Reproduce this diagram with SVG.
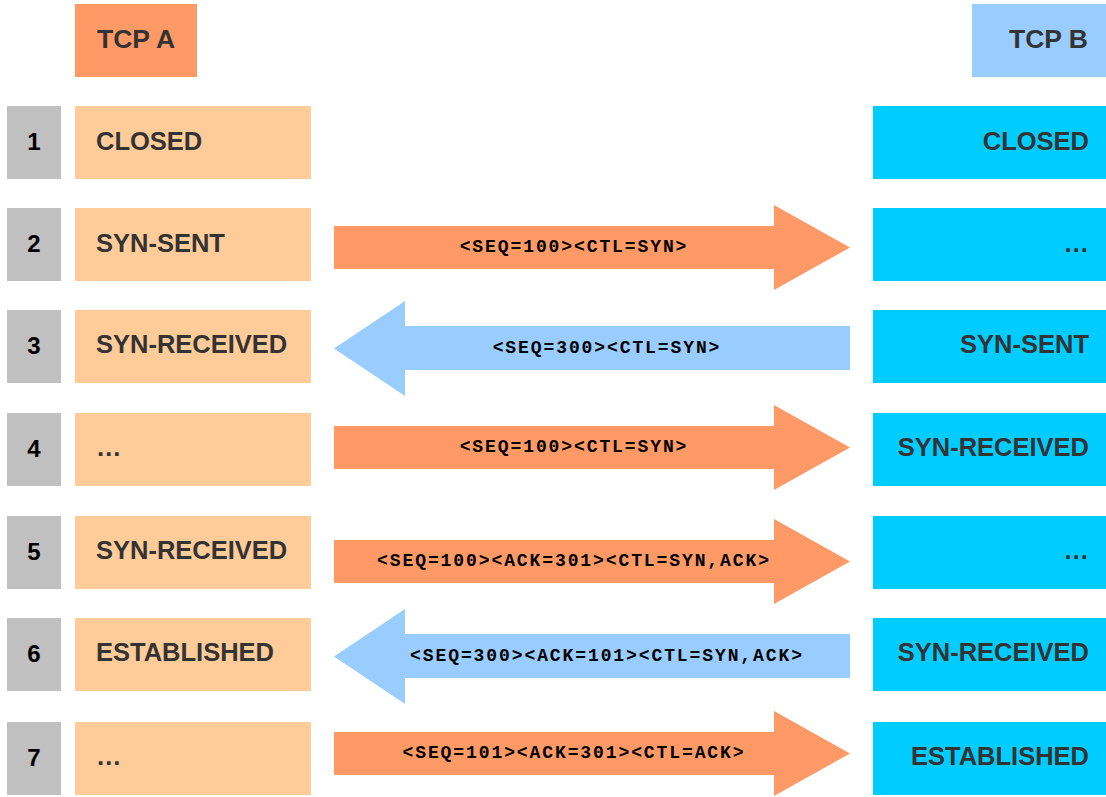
<svg xmlns="http://www.w3.org/2000/svg" width="1106" height="797" viewBox="0 0 1106 797">
  <style>
    .num { fill: #c0c0c0; }
    .sa { fill: #ffcc99; }
    .sb { fill: #00ccff; }
    .ha { fill: #ff9966; }
    .hb { fill: #99ccff; }
    .right { fill: #ff9966; }
    .left { fill: #99ccff; }
    .t { font-family: "Liberation Sans", Arial, sans-serif; font-weight: bold; font-size: 25.5px; fill: #333333; }
    .h { font-size: 26.5px; }
    .n { font-family: "Liberation Sans", Arial, sans-serif; font-weight: bold; font-size: 24px; fill: #000000; text-anchor: middle; }
    .r { text-anchor: end; }
    .m { font-family: "Liberation Mono", "Courier New", monospace; font-weight: bold; font-size: 18px; letter-spacing: 1.9px; fill: #000000; text-anchor: middle; }
  </style>

  <!-- column headers -->
  <g id="tcp-a">
    <rect class="ha" x="75" y="4" width="122" height="73"/>
    <text class="t h" x="97" y="48">TCP A</text>
  </g>
  <g id="tcp-b">
    <rect class="hb" x="972" y="4" width="134" height="73"/>
    <text class="t h r" x="1088" y="48">TCP B</text>
  </g>

  <!-- step rows -->
  <g id="row1">
    <rect class="num" x="7" y="106" width="54" height="73"/>
    <text class="n" x="34" y="150">1</text>
    <rect class="sa" x="75" y="106" width="236" height="73"/>
    <text class="t" x="96" y="149.5">CLOSED</text>
    <rect class="sb" x="873" y="106" width="233" height="73"/>
    <text class="t r" x="1089" y="149.5">CLOSED</text>
  </g>
  <g id="row2">
    <rect class="num" x="7" y="208" width="54" height="73"/>
    <text class="n" x="34" y="252">2</text>
    <rect class="sa" x="75" y="208" width="236" height="73"/>
    <text class="t" x="96" y="251.5">SYN-SENT</text>
    <rect class="sb" x="873" y="208" width="233" height="73"/>
    <text class="t r" x="1089" y="251.5">…</text>
  </g>
  <g id="row3">
    <rect class="num" x="7" y="310" width="54" height="73"/>
    <text class="n" x="34" y="354">3</text>
    <rect class="sa" x="75" y="310" width="236" height="73"/>
    <text class="t" x="96" y="352.5">SYN-RECEIVED</text>
    <rect class="sb" x="873" y="310" width="233" height="73"/>
    <text class="t r" x="1089" y="352.5">SYN-SENT</text>
  </g>
  <g id="row4">
    <rect class="num" x="7" y="413" width="54" height="73"/>
    <text class="n" x="34" y="457">4</text>
    <rect class="sa" x="75" y="413" width="236" height="73"/>
    <text class="t" x="96" y="456">…</text>
    <rect class="sb" x="873" y="413" width="233" height="73"/>
    <text class="t r" x="1089" y="456">SYN-RECEIVED</text>
  </g>
  <g id="row5">
    <rect class="num" x="7" y="516" width="54" height="73"/>
    <text class="n" x="34" y="560">5</text>
    <rect class="sa" x="75" y="516" width="236" height="73"/>
    <text class="t" x="96" y="559">SYN-RECEIVED</text>
    <rect class="sb" x="873" y="516" width="233" height="73"/>
    <text class="t r" x="1089" y="559">…</text>
  </g>
  <g id="row6">
    <rect class="num" x="7" y="618" width="54" height="73"/>
    <text class="n" x="34" y="662">6</text>
    <rect class="sa" x="75" y="618" width="236" height="73"/>
    <text class="t" x="96" y="661">ESTABLISHED</text>
    <rect class="sb" x="873" y="618" width="233" height="73"/>
    <text class="t r" x="1089" y="661">SYN-RECEIVED</text>
  </g>
  <g id="row7">
    <rect class="num" x="7" y="722" width="54" height="73"/>
    <text class="n" x="34" y="766">7</text>
    <rect class="sa" x="75" y="722" width="236" height="73"/>
    <text class="t" x="96" y="765">…</text>
    <rect class="sb" x="873" y="722" width="233" height="73"/>
    <text class="t r" x="1089" y="765">ESTABLISHED</text>
  </g>

  <!-- segments exchanged between A and B -->
  <g id="connectors">
    <polygon class="right" points="334,226 774,226 774,205 850,247.5 774,290 774,269 334,269"/>
    <text class="m" x="574" y="252">&lt;SEQ=100&gt;&lt;CTL=SYN&gt;</text>

    <polygon class="left" points="850,326 405,326 405,301 334,348.5 405,396 405,370 850,370"/>
    <text class="m" x="607" y="353">&lt;SEQ=300&gt;&lt;CTL=SYN&gt;</text>

    <polygon class="right" points="334,426 774,426 774,405 850,447.5 774,490 774,469 334,469"/>
    <text class="m" x="574" y="452">&lt;SEQ=100&gt;&lt;CTL=SYN&gt;</text>

    <polygon class="right" points="334,540 774,540 774,519 850,561.5 774,604 774,583 334,583"/>
    <text class="m" x="574" y="566">&lt;SEQ=100&gt;&lt;ACK=301&gt;&lt;CTL=SYN,ACK&gt;</text>

    <polygon class="left" points="850,634 405,634 405,609 334,656.5 405,704 405,678 850,678"/>
    <text class="m" x="607" y="661">&lt;SEQ=300&gt;&lt;ACK=101&gt;&lt;CTL=SYN,ACK&gt;</text>

    <polygon class="right" points="334,732 774,732 774,711 850,753.5 774,796 774,775 334,775"/>
    <text class="m" x="574" y="758">&lt;SEQ=101&gt;&lt;ACK=301&gt;&lt;CTL=ACK&gt;</text>
  </g>
</svg>
